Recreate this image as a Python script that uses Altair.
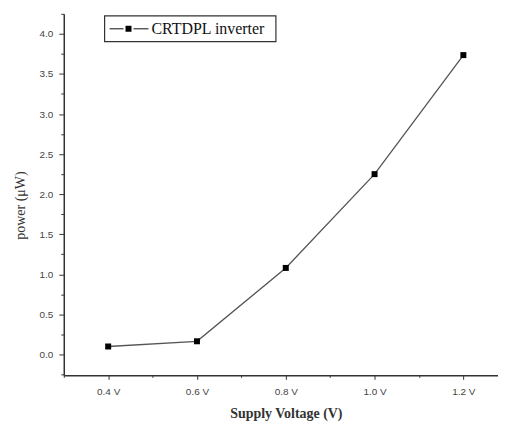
import altair as alt
import pandas as pd

voltage = [0.4, 0.6, 0.8, 1.0, 1.2]
power = [0.10, 0.165, 1.08, 2.25, 3.735]
series_name = "CRTDPL inverter"

x_major = [0.4, 0.6, 0.8, 1.0, 1.2]
x_minor = [0.3, 0.5, 0.7, 0.9, 1.1]
y_major = [0.0, 0.5, 1.0, 1.5, 2.0, 2.5, 3.0, 3.5, 4.0]
y_minor = [-0.25, 0.25, 0.75, 1.25, 1.75, 2.25, 2.75, 3.25, 3.75, 4.25]

df = pd.DataFrame({"v": voltage, "p": power})

xs = alt.Scale(domain=[0.3, 1.278], nice=False, zero=False)
ys = alt.Scale(domain=[-0.26, 4.25], nice=False, zero=False)

serif = "Liberation Serif"
sans = "Liberation Sans"

x_axis = alt.Axis(
    values=x_major, labelExpr="format(datum.value, '.1f') + ' V'",
    title="Supply Voltage (V)", titleFont=serif, titleFontSize=14, titleFontWeight="bold",
    titleColor="#333", titlePadding=10, titleX=223,
    labelFont=sans, labelFontSize=10, labelColor="#444", labelPadding=7,
    tickSize=4, tickColor="#333", domainColor="#333", domainWidth=1.5,
    grid=False, orient="bottom",
)
y_axis = alt.Axis(
    values=y_major, format=".1f",
    title="power (μW)", titleFont=serif, titleFontSize=14, titleFontWeight="normal",
    titleColor="#333", titlePadding=12, titleY=192,
    labelFont=sans, labelFontSize=10, labelColor="#444", labelPadding=6,
    tickSize=5, tickColor="#333", domainColor="#333", domainWidth=1.5,
    grid=False, orient="left",
)

line = alt.Chart(df).mark_line(color="#555", strokeWidth=1.3).encode(
    x=alt.X("v:Q", scale=xs, axis=x_axis),
    y=alt.Y("p:Q", scale=ys, axis=y_axis),
)

points = alt.Chart(df).mark_point(filled=True, shape="square", size=36, opacity=1, color="black").encode(
    x=alt.X("v:Q", scale=xs, axis=None),
    y=alt.Y("p:Q", scale=ys, axis=None),
)

minor_x = alt.Chart(pd.DataFrame({"v": x_minor})).mark_tick(opacity=0).encode(
    x=alt.X("v:Q", scale=xs, axis=alt.Axis(values=x_minor, labels=False, title=None,
            tickSize=2, tickColor="#333", domain=False, grid=False, orient="bottom")),
)
minor_y = alt.Chart(pd.DataFrame({"p": y_minor})).mark_tick(opacity=0).encode(
    y=alt.Y("p:Q", scale=ys, axis=alt.Axis(values=y_minor, labels=False, title=None,
            tickSize=3, tickColor="#333", domain=False, grid=False, orient="left")),
)

# legend (decoration)
leg_df = pd.DataFrame({"label": [series_name]})
leg_box = alt.Chart(leg_df).mark_rect(fill="white", stroke="#333", strokeWidth=1.2).encode(
    x=alt.value(41), x2=alt.value(213), y=alt.value(2), y2=alt.value(28))
leg_l1 = alt.Chart(leg_df).mark_rule(color="#444", strokeWidth=1.3).encode(
    x=alt.value(46), x2=alt.value(60), y=alt.value(15))
leg_l2 = alt.Chart(leg_df).mark_rule(color="#444", strokeWidth=1.3).encode(
    x=alt.value(70), x2=alt.value(85), y=alt.value(15))
leg_pt = alt.Chart(leg_df).mark_point(filled=True, shape="square", size=36, opacity=1, color="black").encode(
    x=alt.value(65), y=alt.value(15))
leg_tx = alt.Chart(leg_df).mark_text(font=serif, fontSize=16, color="#111", align="left", baseline="middle").encode(
    x=alt.value(88), y=alt.value(15.5), text="label:N")

chart = alt.layer(minor_x, minor_y, line, points, leg_box, leg_l1, leg_l2, leg_pt, leg_tx).resolve_axis(
    x="independent", y="independent"
).properties(
    width=436, height=363,
    padding={"left": 56, "top": 5, "right": 0, "bottom": 46},
    autosize=alt.AutoSizeParams(type="none"),
).configure_view(stroke=None)

chart.save("out.html", embed_options={"renderer": "svg", "actions": False})
